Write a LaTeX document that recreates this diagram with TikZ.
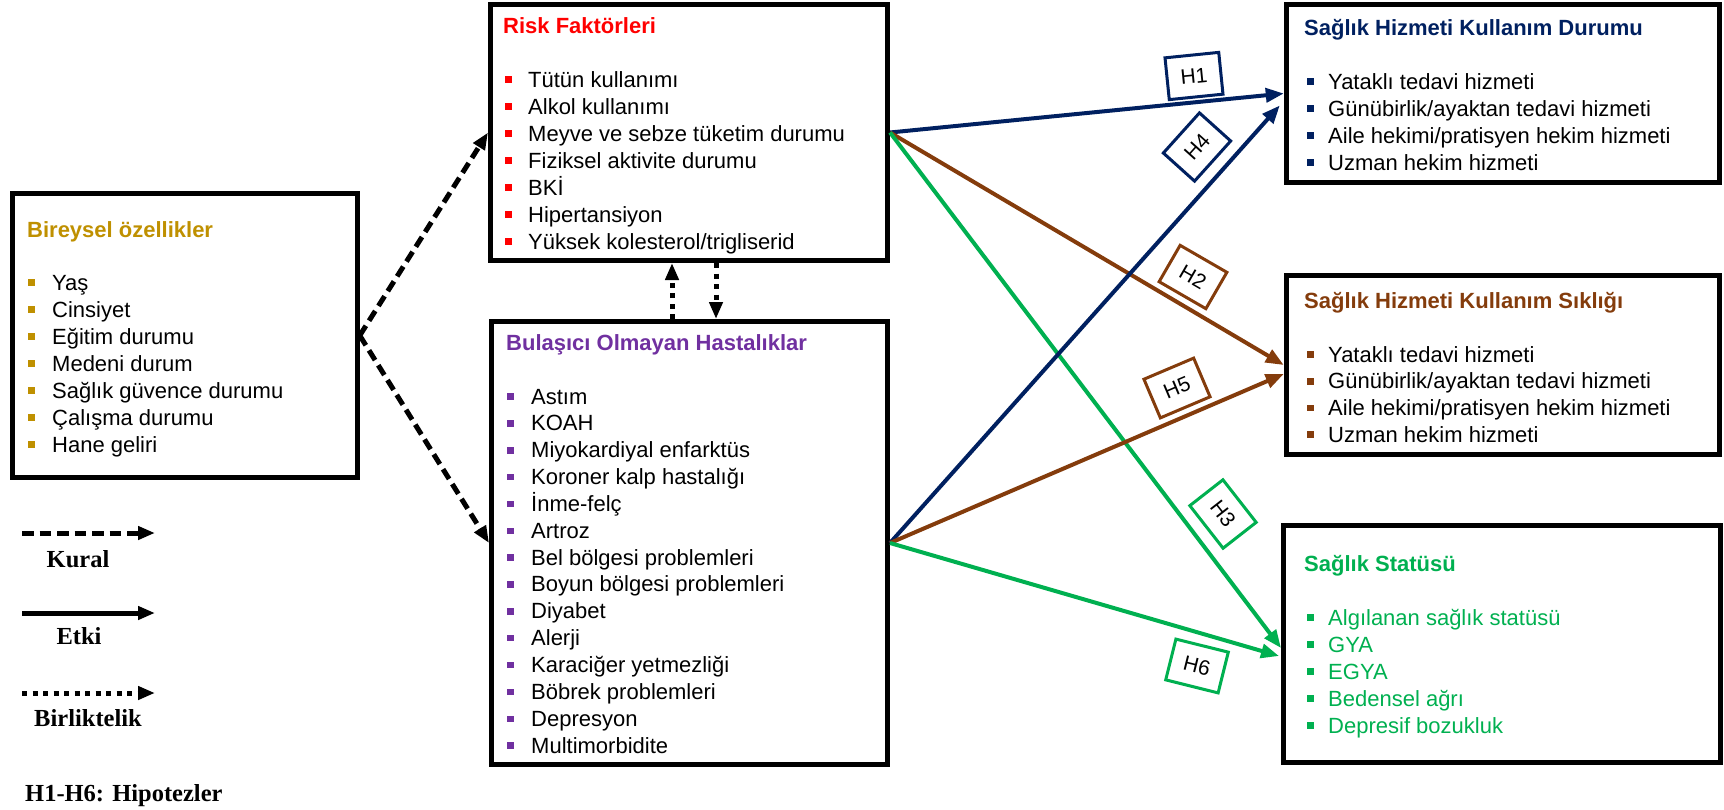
\documentclass[tikz,border=0pt]{standalone}
\usepackage{fontspec}
\setmainfont{Liberation Sans}
\newfontfamily\legendfont{Liberation Serif}
\usetikzlibrary{arrows.meta}
\definecolor{goldc}{HTML}{BF9000}
\definecolor{redc}{HTML}{FF0000}
\definecolor{purplec}{HTML}{7030A0}
\definecolor{navyc}{HTML}{002060}
\definecolor{brownc}{HTML}{843C0C}
\definecolor{greenc}{HTML}{00B050}
\begin{document}
\begin{tikzpicture}[x=1pt,y=-1pt,
  panel/.style={draw=black, line width=5pt, inner sep=0pt},
  ttl/.style={anchor=base west, inner sep=0pt, font=\fontsize{22}{27}\selectfont\bfseries},
  itm/.style={anchor=base west, inner sep=0pt, font=\fontsize{22}{27}\selectfont},
  bul/.style={inner sep=0pt, minimum size=6.5pt, anchor=south west},
  hyp/.style={draw, line width=3pt, inner sep=0pt, minimum width=54pt, minimum height=42pt,
              font=\fontsize{21}{21}\selectfont, text=black},
  effect/.style={line width=4pt, -{Triangle[length=18pt,width=14pt]}},
  kuralarrow/.style={line width=5pt, dash pattern=on 11.5pt off 6pt, -{Triangle[length=17pt,width=13pt]}},
  assocarrow/.style={line width=5pt, dash pattern=on 5pt off 5.5pt, -{Triangle[length=17pt,width=13pt]}},
  etkiarrow/.style={line width=5pt, -{Triangle[length=17pt,width=13pt]}},
  lgd/.style={anchor=base, inner sep=0pt, font=\fontsize{24.5}{26}\legendfont\bfseries}
]
\useasboundingbox (0,0) rectangle (1724,809);

% ---------- boxes ----------
\node[panel, minimum width=344.5pt, minimum height=284pt] (bir)  at (185,335.5) {};
\node[panel, minimum width=397pt,   minimum height=256pt] (risk) at (689,132.5) {};
\node[panel, minimum width=396pt,   minimum height=443pt] (boh)  at (689.5,543) {};
\node[panel, minimum width=433.5pt, minimum height=178pt] (hkd)  at (1503,93.5) {};
\node[panel, minimum width=433.5pt, minimum height=179pt] (hks)  at (1503,365) {};
\node[panel, minimum width=436.5pt, minimum height=237pt] (ss)   at (1501.75,644) {};

% ---------- Bireysel özellikler ----------
\node[ttl, text=goldc] (birT) at (27,237) {Bireysel özellikler};
\foreach \t [count=\i] in {Yaş, Cinsiyet, Eğitim durumu, Medeni durum, Sağlık güvence durumu, Çalışma durumu, Hane geliri}{
  \node[itm] (bir\i) at (52,{290+27*(\i-1)}) {\t};
  \node[bul, fill=goldc] (birb\i) at (28,{286+27*(\i-1)}) {};
}

% ---------- Risk Faktörleri ----------
\node[ttl, text=redc] (riskT) at (503,33) {Risk Faktörleri};
\foreach \t [count=\i] in {Tütün kullanımı, Alkol kullanımı, Meyve ve sebze tüketim durumu, Fiziksel aktivite durumu, BKİ, Hipertansiyon, Yüksek kolesterol/trigliserid}{
  \node[itm] (risk\i) at (528,{87+27*(\i-1)}) {\t};
  \node[bul, fill=redc] (riskb\i) at (505,{83+27*(\i-1)}) {};
}

% ---------- Bulaşıcı Olmayan Hastalıklar ----------
\node[ttl, text=purplec] (bohT) at (506,350) {Bulaşıcı Olmayan Hastalıklar};
\foreach \t [count=\i] in {Astım, KOAH, Miyokardiyal enfarktüs, Koroner kalp hastalığı, İnme-felç, Artroz, Bel bölgesi problemleri, Boyun bölgesi problemleri, Diyabet, Alerji, Karaciğer yetmezliği, Böbrek problemleri, Depresyon, Multimorbidite}{
  \node[itm] (boh\i) at (531,{404+26.85*(\i-1)}) {\t};
  \node[bul, fill=purplec] (bohb\i) at (507,{400+26.85*(\i-1)}) {};
}

% ---------- Sağlık Hizmeti Kullanım Durumu ----------
\node[ttl, text=navyc] (hkdT) at (1304,35) {Sağlık Hizmeti Kullanım Durumu};
\foreach \t [count=\i] in {Yataklı tedavi hizmeti, Günübirlik/ayaktan tedavi hizmeti, Aile hekimi/pratisyen hekim hizmeti, Uzman hekim hizmeti}{
  \node[itm] (hkd\i) at (1328,{89+27*(\i-1)}) {\t};
  \node[bul, fill=navyc] (hkdb\i) at (1307,{85+27*(\i-1)}) {};
}

% ---------- Sağlık Hizmeti Kullanım Sıklığı ----------
\node[ttl, text=brownc] (hksT) at (1304,308) {Sağlık Hizmeti Kullanım Sıklığı};
\foreach \t [count=\i] in {Yataklı tedavi hizmeti, Günübirlik/ayaktan tedavi hizmeti, Aile hekimi/pratisyen hekim hizmeti, Uzman hekim hizmeti}{
  \node[itm] (hks\i) at (1328,{362+26.7*(\i-1)}) {\t};
  \node[bul, fill=brownc] (hksb\i) at (1307,{358+26.7*(\i-1)}) {};
}

% ---------- Sağlık Statüsü ----------
\node[ttl, text=greenc] (ssT) at (1304,571) {Sağlık Statüsü};
\foreach \t [count=\i] in {Algılanan sağlık statüsü, GYA, EGYA, Bedensel ağrı, Depresif bozukluk}{
  \node[itm, text=greenc] (ss\i) at (1328,{625+27*(\i-1)}) {\t};
  \node[bul, fill=greenc] (ssb\i) at (1307,{621+27*(\i-1)}) {};
}

% ---------- rule (dashed) and association (dotted) connectors ----------
\draw[kuralarrow] (bir.east) -- (risk.west);
\draw[kuralarrow] (bir.east) -- (boh.west);
\draw[assocarrow] ([xshift=-17.5pt]boh.north) -- ([xshift=-17pt]risk.south);
\draw[assocarrow] ([xshift=27pt]risk.south) -- ([xshift=26.5pt]boh.north);

% ---------- hypothesis connectors ----------
\draw[effect, navyc]  (risk.east) -- (hkd.west);
\draw[effect, brownc] (risk.east) -- (hks.west);
\draw[effect, greenc] (risk.east) -- ([yshift=-4pt]ss.west);
\draw[effect, navyc]  (boh.east) -- ([shift={(-4pt,-12pt)}]hkd.west);
\draw[effect, brownc] (boh.east) -- ([yshift=-9pt]hks.west);
\draw[effect, greenc] (boh.east) -- ([shift={(-2pt,-12pt)}]ss.west);

% ---------- hypothesis labels ----------
\node[hyp, draw=navyc,  rotate=5.8] (h1) at (1194,76)  {H1};
\node[hyp, draw=navyc,  rotate=48]  (h4) at (1197,147) {H4};
\node[hyp, draw=brownc, rotate=-30] (h2) at (1193,277) {H2};
\node[hyp, draw=brownc, rotate=23]  (h5) at (1177,388) {H5};
\node[hyp, draw=greenc, rotate=-52] (h3) at (1223,514) {H3};
\node[hyp, draw=greenc, rotate=-14] (h6) at (1197,666) {H6};

% ---------- legend ----------
\coordinate (ka) at (22,533);  \coordinate (kb) at (155,533);
\coordinate (ea) at (22,613);  \coordinate (eb) at (155,613);
\coordinate (ba) at (22,693);  \coordinate (bb) at (155,693);
\draw[kuralarrow] (ka) -- (kb);
\draw[etkiarrow]  (ea) -- (eb);
\draw[assocarrow] (ba) -- (bb);
\node[lgd] (lk) at (78,567) {Kural};
\node[lgd] (le) at (79,644) {Etki};
\node[lgd] (lb) at (88,726) {Birliktelik};
\node[lgd, anchor=base west] (lh) at (25,801) {H1-H6: Hipotezler};
\end{tikzpicture}
\end{document}
